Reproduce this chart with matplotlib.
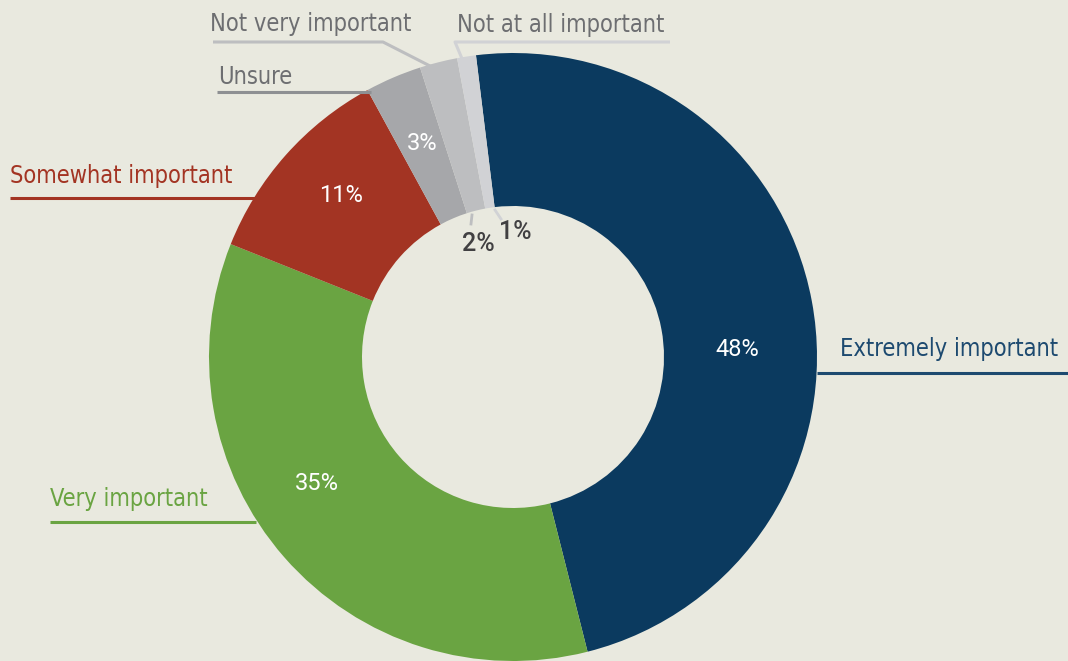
import matplotlib.pyplot as plt
from matplotlib import font_manager
from matplotlib.font_manager import FontProperties

# survey answers, clockwise from the top
answers = ["Extremely important", "Very important", "Somewhat important",
           "Unsure", "Not very important", "Not at all important"]
shares = [48, 35, 11, 3, 2, 1]
colors = ["#0b3a5f", "#6aa442", "#a33423", "#a6a7aa", "#bdbec0", "#d1d2d5"]
text_colors = ["#1d4a70", "#6aa442", "#a33423", "#6d6e71", "#6d6e71", "#6d6e71"]
line_colors = ["#1d4a70", "#6aa442", "#a33423", "#8e9093", "#bdbec0", "#d1d2d5"]

W, H = 1068, 661
BG = "#e9e9df"


def pick_label_font():
    # prefer a narrow sans face, fall back to the narrower stock families
    fl = font_manager.fontManager.ttflist
    for f in fl:
        if ("Narrow" in f.name or "Condensed" in f.name or
                f.stretch in ("condensed", "semi-condensed")) and f.weight in (400, "normal", "regular") \
                and f.style == "normal":
            return FontProperties(fname=f.fname)
    names = {f.name for f in fl}
    for fam in ["Lato", "Roboto", "Open Sans", "DejaVu Sans"]:
        if fam in names:
            return FontProperties(family=fam)
    return FontProperties()


label_fp = pick_label_font()
pct_fam = "Roboto" if "Roboto" in {f.name for f in font_manager.fontManager.ttflist} else "DejaVu Sans"

fig = plt.figure(figsize=(W / 100, H / 100), dpi=100, facecolor=BG)
ax = fig.add_axes([0, 0, 1, 1])


def Y(y):
    # screen-style y (from top) to axis y
    return H - y


cx, cy, r_out, r_in = 513, 357, 304, 151
ax.pie(shares, colors=colors, startangle=97, counterclock=False,
       center=(cx, Y(cy)), radius=r_out, frame=True,
       wedgeprops=dict(width=r_out - r_in, linewidth=0))
ax.set_xlim(0, W)
ax.set_ylim(0, H)
ax.set_aspect("equal")
ax.axis("off")

# category labels with their underline / leader lines
label_pos = [(840, 349), (50, 499), (10, 176), (218, 77), (210, 24), (457, 25)]
leaders = [
    [(817, 373), (1068, 373)],
    [(50, 522), (256, 522)],
    [(10, 198), (256, 198)],
    [(217, 92), (371, 92)],
    [(213, 42), (383, 42), (432, 67)],
    [(670, 42), (455, 42), (463, 61)],
]
labels = []
for name, (tx, ty), tc, lc, pts in zip(answers, label_pos, text_colors, line_colors, leaders):
    t = ax.text(tx, Y(ty), name, color=tc, fontproperties=label_fp.copy(),
                fontsize=19, ha="left", va="center")
    labels.append(t)
    xs = [p[0] for p in pts]
    ys = [Y(p[1]) for p in pts]
    ax.plot(xs, ys, color=lc, lw=2.2, solid_capstyle="butt", zorder=1)

# fit the label size so "Extremely important" spans about 218 px
fig.canvas.draw()
w = labels[0].get_window_extent().width
size = min(20, 19 * 218 / w)
for t in labels:
    t.set_fontsize(size)

# percentages inside the ring
pct_pos = [(737, 350), (317, 484), (341, 196), (422, 143)]
for v, (px, py) in zip(shares[:4], pct_pos):
    ax.text(px, Y(py), f"{v}%", color="white", fontsize=17, family=pct_fam,
            ha="center", va="center")

# small slices get labels in the hole
small_pos = [(478, 244), (515, 232)]
small_ticks = [[(472, 215), (471, 224)], [(495, 210), (501, 219)]]
for v, (px, py), pts, lc in zip(shares[4:], small_pos, small_ticks, line_colors[4:]):
    ax.text(px, Y(py), f"{v}%", color="#414042", fontsize=18, family=pct_fam,
            fontweight="medium", ha="center", va="center")
    ax.plot([p[0] for p in pts], [Y(p[1]) for p in pts], color=lc, lw=2)

fig.savefig("out.png", dpi=100, facecolor=BG)
